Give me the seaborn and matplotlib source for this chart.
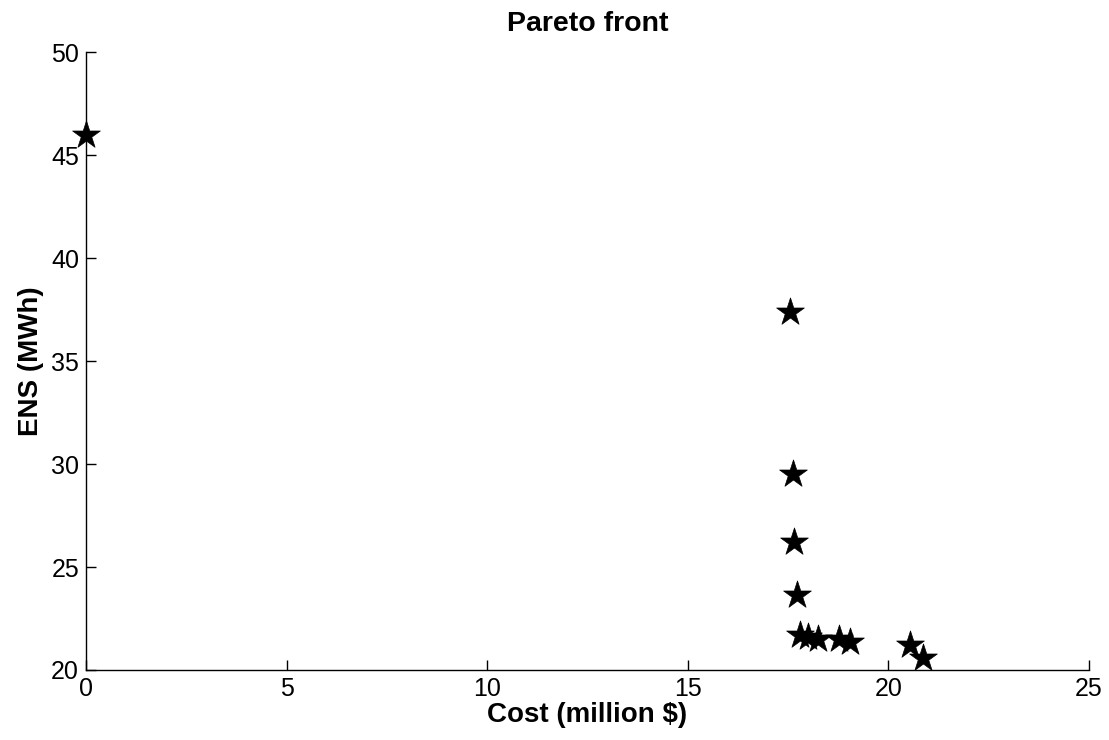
import pandas as pd
import seaborn as sns
import matplotlib.pyplot as plt

# Pareto front points
cost = [0.0, 17.55, 17.62, 17.65, 17.72, 17.80, 18.00, 18.24, 18.77, 19.04, 20.55, 20.85]
ens = [45.97, 37.38, 29.5, 26.2, 23.64, 21.7, 21.6, 21.5, 21.5, 21.36, 21.2, 20.6]

data = pd.DataFrame({"Cost": cost, "ENS": ens})

sns.set_style("ticks")
plt.rcParams['font.family'] = ['Liberation Sans', 'DejaVu Sans']
plt.rcParams['xtick.direction'] = 'in'
plt.rcParams['ytick.direction'] = 'in'
plt.rcParams['text.color'] = 'black'
plt.rcParams['axes.labelcolor'] = 'black'
plt.rcParams['xtick.color'] = 'black'
plt.rcParams['ytick.color'] = 'black'

fig = plt.figure(figsize=(11.09, 7.40), dpi=100)
ax = fig.add_axes([0.0775, 0.0946, 0.9045, 0.8351])

sns.scatterplot(x="Cost", y="ENS", data=data, ax=ax, marker="*", s=440,
                color="black", edgecolor="black", linewidth=0.5, clip_on=False, zorder=3)

ax.set_xlim(0, 25)
ax.set_ylim(20, 50)
ax.set_xticks([0, 5, 10, 15, 20, 25])
ax.set_yticks([20, 25, 30, 35, 40, 45, 50])
ax.tick_params(labelsize=18, length=7, width=1, colors="black", pad=5)
sns.despine(ax=ax)
for s in ["left", "bottom"]:
    ax.spines[s].set_color("black")
    ax.spines[s].set_linewidth(1)

ax.set_xlabel("Cost (million $)", fontsize=20, fontweight="bold", labelpad=1, color="black")
ax.set_ylabel("ENS (MWh)", fontsize=20, fontweight="bold", labelpad=5, color="black")
ax.set_title("Pareto front", fontsize=20.5, fontweight="bold", pad=15, color="black")

fig.savefig("out.png", dpi=100)
